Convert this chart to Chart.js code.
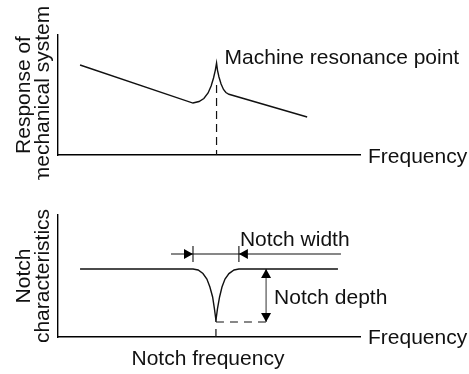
<!DOCTYPE html>
<html>
<head>
<meta charset="UTF-8">
<title>Notch filter</title>
<style>
  body { margin: 0; background: #fff; }
  .box { position: relative; width: 469px; }
  canvas { display: block; }
</style>
</head>
<body>
<div class="box" style="height:180px"><canvas id="topChart" width="469" height="180"></canvas></div>
<div class="box" style="height:194px"><canvas id="bottomChart" width="469" height="194"></canvas></div>

<script src="https://cdn.jsdelivr.net/npm/chart.js"></script>
<script>
// ---------------- data (arbitrary units, 0..100 on both axes) ----------------
// response of mechanical system, with the resonance peak
const respX = [7.3, 44.7, 46.7, 48.3, 49.7, 50.7, 51.5, 52.1, 52.5, 52.8, 53.3, 54.0, 54.8, 55.6, 56.6, 82.5];
const respY = [75, 43.3, 44.6, 47.1, 51.7, 57.5, 64.2, 70.8, 76.7, 70.8, 65, 59.2, 54.6, 52.1, 50.6, 31.7];
const resonanceX = 52.5;
const resonanceDash = [58.3, 0];   // dashed drop line, top -> axis

// notch characteristics
const notchX = [7.3, 44.7, 46.4, 48.0, 49.3, 50.3, 51.2, 51.8, 52.2, 52.3, 52.4, 52.8, 53.5, 54.3, 55.3, 56.6, 58.3, 59.9, 92.7];
const notchY = [55.7, 55.7, 54.9, 52.0, 47.5, 41.0, 32.8, 23.0, 15.6, 12.3, 15.6, 23.0, 32.8, 41.0, 47.5, 52.0, 54.9, 55.7, 55.7];
const notchCenter = 52.3;
const notchWidthEdges = [44.7, 59.9];   // x of the two width marks
const notchWidthLine = [37.4, 93.7];    // extent of the dimension line
const notchWidthLevel = 68.0;           // y of the dimension line
const notchWidthTick = [74.6, 61.5];    // vertical extent of the marks
const notchDepthX = 68.9;
const notchDepth = [55.7, 12.3];        // top (flat level) and bottom of notch

// labels
const topYTitle = ['Response of', 'mechanical system'];
const bottomYTitle = ['Notch', 'characteristics'];
const xTitle = 'Frequency';
const resonanceLabel = 'Machine resonance point';
const widthLabel = 'Notch width';
const depthLabel = 'Notch depth';
const freqLabel = 'Notch frequency';

const FONT = '21px "Liberation Sans", Arial, sans-serif';
const INK = '#111';

function pts(xs, ys) { return xs.map((x, i) => ({x: x, y: ys[i]})); }

function lineSet(data, opts) {
  return Object.assign({
    data: data, showLine: true, pointRadius: 0, borderColor: INK,
    borderWidth: 1.4, fill: false, tension: 0, clip: false
  }, opts || {});
}

function axes() {
  const ax = {
    type: 'linear', min: 0, max: 100,
    grid: {display: false, drawTicks: false},
    ticks: {display: false},
    border: {display: true, color: '#000', width: 1.4}
  };
  return {x: Object.assign({}, ax), y: Object.assign({}, ax)};
}

function yTitle(ctx, area, lines) {
  ctx.save();
  ctx.font = FONT;
  ctx.fillStyle = INK;
  ctx.textAlign = 'center';
  ctx.textBaseline = 'alphabetic';
  const cy = (area.top + area.bottom) / 2;
  ctx.translate(30, cy);
  ctx.rotate(-Math.PI / 2);
  ctx.fillText(lines[0], 0, 0);
  ctx.fillText(lines[1], 0, 19);
  ctx.restore();
}

function text(ctx, s, x, y) {
  ctx.save();
  ctx.font = FONT;
  ctx.fillStyle = INK;
  ctx.textAlign = 'left';
  ctx.textBaseline = 'alphabetic';
  ctx.fillText(s, x, y);
  ctx.restore();
}

// filled triangle, tip at (x,y), pointing in direction dir ('l','r','u','d')
function arrowHead(ctx, x, y, dir) {
  const len = 9, half = 5;
  ctx.save();
  ctx.fillStyle = '#000';
  ctx.beginPath();
  ctx.moveTo(x, y);
  if (dir === 'r') { ctx.lineTo(x - len, y - half); ctx.lineTo(x - len, y + half); }
  if (dir === 'l') { ctx.lineTo(x + len, y - half); ctx.lineTo(x + len, y + half); }
  if (dir === 'u') { ctx.lineTo(x - half, y + len); ctx.lineTo(x + half, y + len); }
  if (dir === 'd') { ctx.lineTo(x - half, y - len); ctx.lineTo(x + half, y - len); }
  ctx.closePath();
  ctx.fill();
  ctx.restore();
}

// ---------------- top chart ----------------
const topNotes = {
  id: 'topNotes',
  afterDraw(chart) {
    const {ctx, chartArea, scales} = chart;
    yTitle(ctx, chartArea, topYTitle);
    text(ctx, xTitle, chartArea.right + 8, chartArea.bottom + 8);
    const px = scales.x.getPixelForValue(resonanceX);
    text(ctx, resonanceLabel, px + 8, scales.y.getPixelForValue(Math.max(...respY)) + 1);
  }
};

new Chart(document.getElementById('topChart'), {
  type: 'scatter',
  data: {
    datasets: [
      lineSet(pts(respX, respY)),
      lineSet(pts([resonanceX, resonanceX], resonanceDash), {borderDash: [8, 5], borderWidth: 1.2})
    ]
  },
  options: {
    responsive: false,
    devicePixelRatio: 1,
    animation: false,
    events: [],
    layout: {padding: {left: 58, right: 109, top: 35, bottom: 25}},
    scales: axes(),
    plugins: {legend: {display: false}, tooltip: {enabled: false}}
  },
  plugins: [topNotes]
});

// ---------------- bottom chart ----------------
const bottomNotes = {
  id: 'bottomNotes',
  afterDraw(chart) {
    const {ctx, chartArea, scales} = chart;
    const sx = v => scales.x.getPixelForValue(v);
    const sy = v => scales.y.getPixelForValue(v);
    yTitle(ctx, chartArea, bottomYTitle);
    text(ctx, xTitle, chartArea.right + 8, chartArea.bottom + 7);
    // notch width arrows
    arrowHead(ctx, sx(notchWidthEdges[0]), sy(notchWidthLevel), 'r');
    arrowHead(ctx, sx(notchWidthEdges[1]), sy(notchWidthLevel), 'l');
    text(ctx, widthLabel, sx(notchWidthEdges[1]) + 1, sy(notchWidthLevel) - 8);
    // notch depth arrows
    arrowHead(ctx, sx(notchDepthX), sy(notchDepth[0]), 'u');
    arrowHead(ctx, sx(notchDepthX), sy(notchDepth[1]), 'd');
    text(ctx, depthLabel, sx(notchDepthX) + 8, (sy(notchDepth[0]) + sy(notchDepth[1])) / 2 + 8);
    // notch frequency
    ctx.save();
    ctx.font = FONT;
    ctx.fillStyle = INK;
    ctx.textAlign = 'center';
    ctx.fillText(freqLabel, sx(notchCenter) - 8, chartArea.bottom + 28);
    ctx.restore();
  }
};

new Chart(document.getElementById('bottomChart'), {
  type: 'scatter',
  data: {
    datasets: [
      lineSet(pts(notchX, notchY)),
      lineSet(pts(notchWidthLine, [notchWidthLevel, notchWidthLevel]), {borderWidth: 1.1}),
      lineSet(pts([notchWidthEdges[0], notchWidthEdges[0]], notchWidthTick), {borderWidth: 1.1}),
      lineSet(pts([notchWidthEdges[1], notchWidthEdges[1]], notchWidthTick), {borderWidth: 1.1}),
      lineSet(pts([notchDepthX, notchDepthX], notchDepth), {borderWidth: 1.1, borderColor: '#444'}),
      lineSet(pts([notchCenter, notchDepthX], [notchDepth[1], notchDepth[1]]), {borderDash: [8, 6], borderWidth: 1.2}),
      lineSet(pts([notchCenter, notchCenter], [6.6, 0]), {borderWidth: 1.2})
    ]
  },
  options: {
    responsive: false,
    devicePixelRatio: 1,
    animation: false,
    events: [],
    layout: {padding: {left: 58, right: 109, top: 35, bottom: 37}},
    scales: axes(),
    plugins: {legend: {display: false}, tooltip: {enabled: false}}
  },
  plugins: [bottomNotes]
});
</script>
</body>
</html>
